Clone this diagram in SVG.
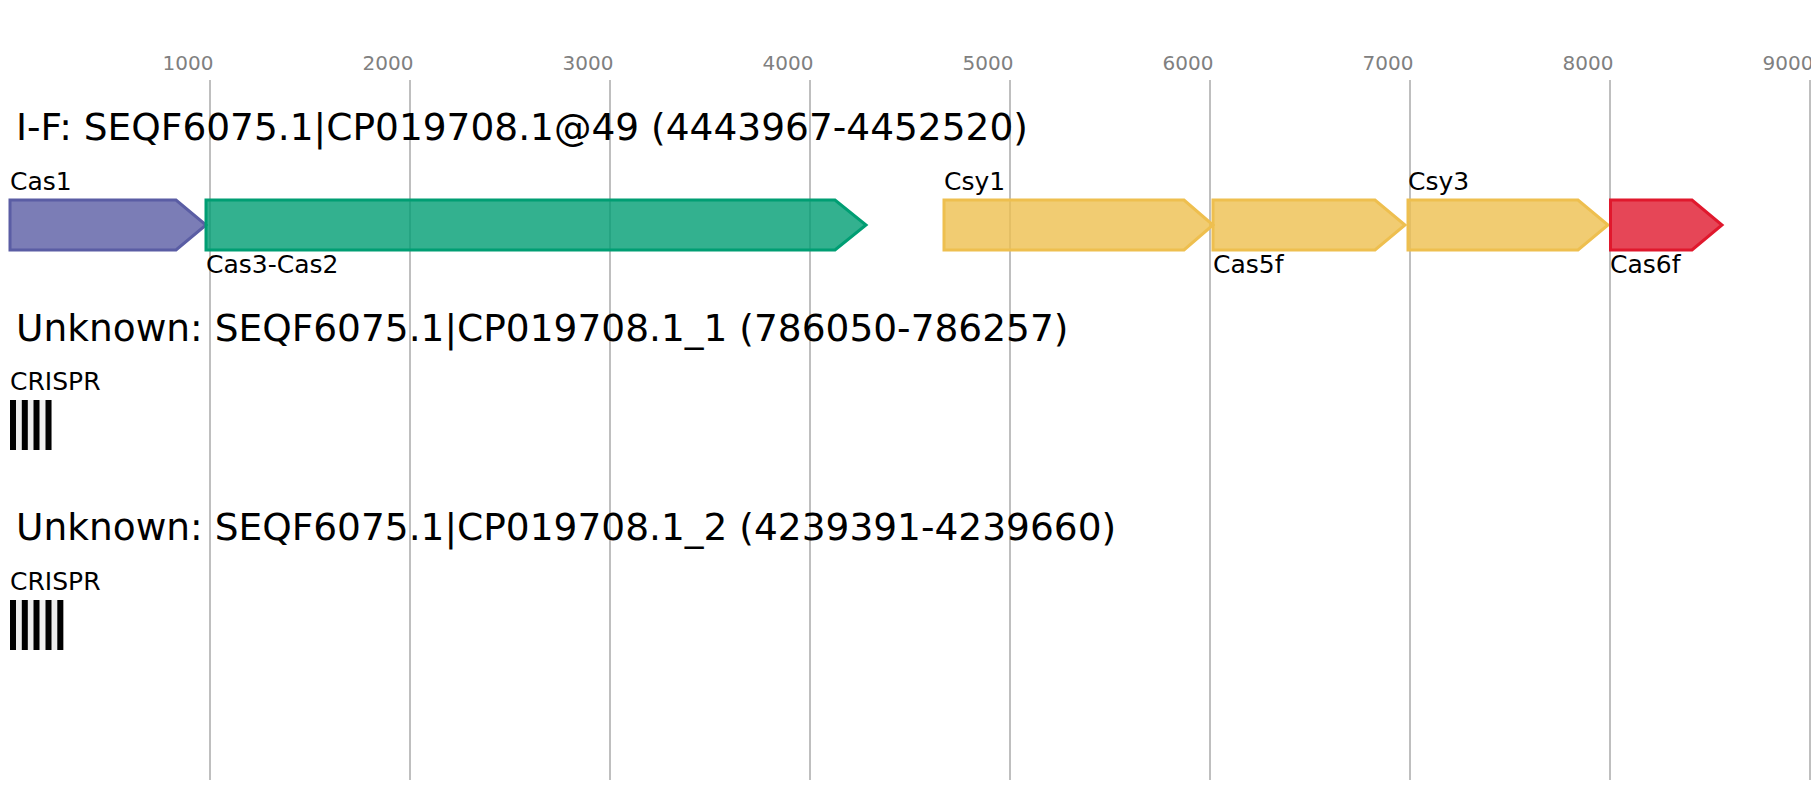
<svg xmlns="http://www.w3.org/2000/svg" width="1811" height="800" viewBox="0 0 1811 800">
<style>
text{font-family:"DejaVu Sans","Noto Sans",sans-serif;}
.tick{font-size:20px;fill:#808080;text-anchor:middle;}
.grid{stroke:#bfbfbf;stroke-width:2;}
.title{font-size:37.5px;fill:#000;}
.lbl{font-size:25px;fill:#000;}
.gene{stroke-width:3;fill-opacity:0.8;}
.c1{fill:#5a5da4;stroke:#5a5da4;}
.c32{fill:#009e73;stroke:#009e73;}
.csy{fill:#eebf4f;stroke:#eebf4f;}
.c6{fill:#e0182d;stroke:#e0182d;}
.rep{fill:#000;}
.sp{fill:#eeeeee;}
</style>
<rect width="1811" height="800" fill="#fff"/>
<g id="axis">
<g class="grid">
<line x1="210" y1="80" x2="210" y2="780"/>
<line x1="410" y1="80" x2="410" y2="780"/>
<line x1="610" y1="80" x2="610" y2="780"/>
<line x1="810" y1="80" x2="810" y2="780"/>
<line x1="1010" y1="80" x2="1010" y2="780"/>
<line x1="1210" y1="80" x2="1210" y2="780"/>
<line x1="1410" y1="80" x2="1410" y2="780"/>
<line x1="1610" y1="80" x2="1610" y2="780"/>
<line x1="1810" y1="80" x2="1810" y2="780"/>
</g>
<text class="tick" x="188" y="70">1000</text>
<text class="tick" x="388" y="70">2000</text>
<text class="tick" x="588" y="70">3000</text>
<text class="tick" x="788" y="70">4000</text>
<text class="tick" x="988" y="70">5000</text>
<text class="tick" x="1188" y="70">6000</text>
<text class="tick" x="1388" y="70">7000</text>
<text class="tick" x="1588" y="70">8000</text>
<text class="tick" x="1788" y="70">9000</text>
</g>
<g id="connectors"></g>
<g id="locus-IF">
<text class="title" x="16" y="140">I-F: SEQF6075.1|CP019708.1@49 (4443967-4452520)</text>
</g>
<g id="gene-Cas1">
<polygon class="gene c1" points="10,200 176,200 206,225 176,250 10,250"/>
<text class="lbl" x="10" y="190">Cas1</text>
</g>
<g id="gene-Cas3-Cas2">
<polygon class="gene c32" points="206,200 835,200 866,225 835,250 206,250"/>
<text class="lbl" x="206" y="273">Cas3-Cas2</text>
</g>
<g id="gene-Csy1">
<polygon class="gene csy" points="944,200 1184,200 1213,225 1184,250 944,250"/>
<text class="lbl" x="944" y="190">Csy1</text>
</g>
<g id="gene-Cas5f">
<polygon class="gene csy" points="1213,200 1375,200 1405,225 1375,250 1213,250"/>
<text class="lbl" x="1213" y="273">Cas5f</text>
</g>
<g id="gene-Csy3">
<polygon class="gene csy" points="1408,200 1578,200 1608,225 1578,250 1408,250"/>
<text class="lbl" x="1408" y="190">Csy3</text>
</g>
<g id="gene-Cas6f">
<polygon class="gene c6" points="1610.5,200 1692,200 1722,225 1692,250 1610.5,250"/>
<text class="lbl" x="1610" y="273">Cas6f</text>
</g>
<g id="locus-unknown-1">
<text class="title" x="16" y="341">Unknown: SEQF6075.1|CP019708.1_1 (786050-786257)</text>
</g>
<g id="crispr-1">
<text class="lbl" x="10" y="390">CRISPR</text>
<rect class="sp" x="10" y="400" width="42" height="50"/>
<rect class="rep" x="10" y="400" width="6" height="50"/>
<rect class="rep" x="21.8" y="400" width="6" height="50"/>
<rect class="rep" x="33.5" y="400" width="6" height="50"/>
<rect class="rep" x="45.5" y="400" width="6" height="50"/>
</g>
<g id="locus-unknown-2">
<text class="title" x="16" y="540">Unknown: SEQF6075.1|CP019708.1_2 (4239391-4239660)</text>
</g>
<g id="crispr-2">
<text class="lbl" x="10" y="590">CRISPR</text>
<rect class="sp" x="10" y="600" width="54" height="50"/>
<rect class="rep" x="10" y="600" width="6" height="50"/>
<rect class="rep" x="21.8" y="600" width="6" height="50"/>
<rect class="rep" x="33.5" y="600" width="6" height="50"/>
<rect class="rep" x="45.5" y="600" width="6" height="50"/>
<rect class="rep" x="57.3" y="600" width="6" height="50"/>
</g>
</svg>
